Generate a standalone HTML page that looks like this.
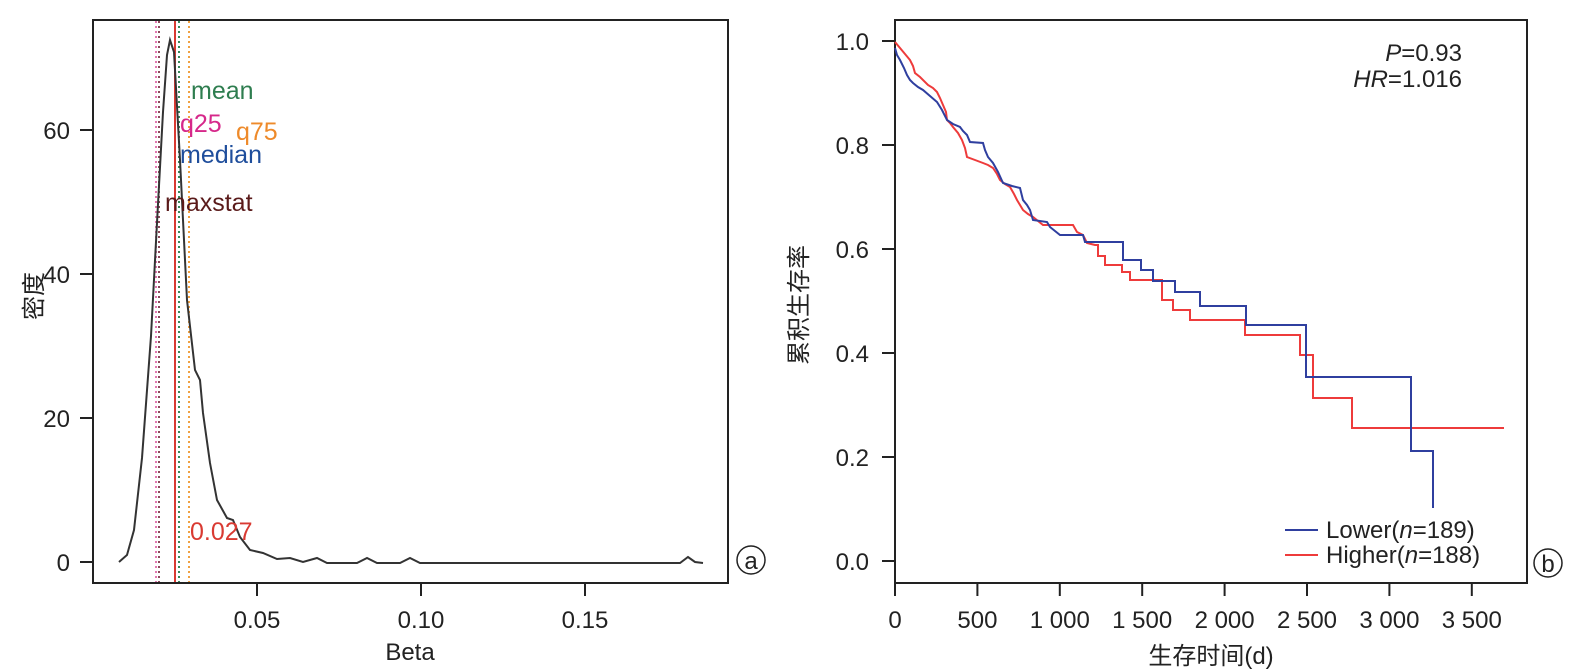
<!DOCTYPE html>
<html><head><meta charset="utf-8"><style>
html,body{margin:0;padding:0;background:#fff;}
svg{display:block;}
text{font-family:"Liberation Sans","Noto Sans CJK SC",sans-serif;}
</style></head><body>
<svg width="1594" height="670" viewBox="0 0 1594 670" xmlns="http://www.w3.org/2000/svg" fill="#222">
<!-- LEFT PANEL -->
<rect x="93" y="20" width="635" height="563" fill="none" stroke="#222" stroke-width="2"/>
<g stroke="#222" stroke-width="2">
<line x1="80" y1="562" x2="93" y2="562"/><line x1="80" y1="418" x2="93" y2="418"/>
<line x1="80" y1="274" x2="93" y2="274"/><line x1="80" y1="130" x2="93" y2="130"/>
<line x1="257" y1="583" x2="257" y2="596"/><line x1="421" y1="583" x2="421" y2="596"/><line x1="585" y1="583" x2="585" y2="596"/>
</g>
<g font-size="24" text-anchor="end">
<text x="70" y="571">0</text><text x="70" y="427">20</text><text x="70" y="283">40</text><text x="70" y="139">60</text>
</g>
<g font-size="24" text-anchor="middle">
<text x="257" y="628">0.05</text><text x="421" y="628">0.10</text><text x="585" y="628">0.15</text>
<text x="410" y="660">Beta</text>
</g>
<text font-size="24" text-anchor="middle" transform="translate(42,296) rotate(-90)">密度</text>
<!-- vertical lines -->
<line x1="156" y1="21" x2="156" y2="582" stroke="#e377b0" stroke-width="2" stroke-dasharray="2,3"/>
<line x1="159" y1="21" x2="159" y2="582" stroke="#8a4a5a" stroke-width="2" stroke-dasharray="2,3"/>
<line x1="175" y1="21" x2="175" y2="582" stroke="#d93a32" stroke-width="2"/>
<line x1="179" y1="21" x2="179" y2="582" stroke="#3a8a5a" stroke-width="2" stroke-dasharray="2,3"/>
<line x1="189" y1="21" x2="189" y2="582" stroke="#f0a040" stroke-width="2" stroke-dasharray="2,3"/>
<polyline fill="none" stroke="#333" stroke-width="2" points="119,562 127,555 134,530 142,458 151,336 158,204 163,112 167,55 170,40 174,52 180,160 187,300 195,370 200,380 203,413 210,463 217,500 227,518 233,520 240,537 250,550 263,553 277,559 290,558 303,562 317,558 327,563 357,563 367,558 377,563 400,563 410,558 420,563 680,563 688,557 695,562 703,563"/>
<g font-size="25">
<text x="191" y="99" style="fill:#2e7d4f">mean</text>
<text x="180" y="132" style="fill:#d6288a">q25</text>
<text x="236" y="140" style="fill:#ee8a2a">q75</text>
<text x="180" y="163" style="fill:#1f4e9c">median</text>
<text x="165" y="211" style="fill:#5a1a1a">maxstat</text>
<text x="190" y="540" style="fill:#d93a32">0.027</text>
</g>
<circle cx="751" cy="560" r="14" fill="none" stroke="#222" stroke-width="1.5"/>
<text x="751" y="569" font-size="24" text-anchor="middle">a</text>

<!-- RIGHT PANEL -->
<rect x="895" y="20" width="632" height="563" fill="none" stroke="#222" stroke-width="2"/>
<g stroke="#222" stroke-width="2">
<line x1="882" y1="41" x2="895" y2="41"/><line x1="882" y1="145" x2="895" y2="145"/>
<line x1="882" y1="249" x2="895" y2="249"/><line x1="882" y1="353" x2="895" y2="353"/>
<line x1="882" y1="457" x2="895" y2="457"/><line x1="882" y1="561" x2="895" y2="561"/>
<line x1="895" y1="583" x2="895" y2="596"/><line x1="977.4" y1="583" x2="977.4" y2="596"/>
<line x1="1059.8" y1="583" x2="1059.8" y2="596"/><line x1="1142.2" y1="583" x2="1142.2" y2="596"/>
<line x1="1224.6" y1="583" x2="1224.6" y2="596"/><line x1="1307" y1="583" x2="1307" y2="596"/>
<line x1="1389.4" y1="583" x2="1389.4" y2="596"/><line x1="1471.8" y1="583" x2="1471.8" y2="596"/>
</g>
<g font-size="24" text-anchor="end">
<text x="869" y="50">1.0</text><text x="869" y="154">0.8</text><text x="869" y="258">0.6</text>
<text x="869" y="362">0.4</text><text x="869" y="466">0.2</text><text x="869" y="570">0.0</text>
</g>
<g font-size="24" text-anchor="middle">
<text x="895" y="628">0</text><text x="977.4" y="628">500</text><text x="1059.8" y="628">1 000</text>
<text x="1142.2" y="628">1 500</text><text x="1224.6" y="628">2 000</text><text x="1307" y="628">2 500</text>
<text x="1389.4" y="628">3 000</text><text x="1471.8" y="628">3 500</text>
<text x="1211" y="664">生存时间(d)</text>
</g>
<text font-size="24" text-anchor="middle" transform="translate(807,305) rotate(-90)">累积生存率</text>
<text x="1462" y="61" font-size="24" text-anchor="end"><tspan font-style="italic">P</tspan>=0.93</text>
<text x="1462" y="87" font-size="24" text-anchor="end"><tspan font-style="italic">HR</tspan>=1.016</text>
<polyline fill="none" stroke="#ee3b3b" stroke-width="2" points="895,42 900,48 905,54 910,60 913,66 915,73 920,77 928,85 933,88 937,92 940,98 943,105 946,112 947,120 950,123 953,127 958,133 962,140 965,148 967,157 975,160 983,163 988,165 993,168 997,174 1000,180 1005,184 1010,187 1014,194 1017,200 1020,205 1023,210 1028,214 1033,217 1038,221 1043,225 1073,225 1077,232 1083,235 1087,243 1095,245 1098,245 1098,256 1105,256 1105,265 1122,265 1122,272 1130,272 1130,280 1162,280 1162,300 1173,300 1173,310 1190,310 1190,320 1245,320 1245,335 1300,335 1300,355 1313,355 1313,398 1352,398 1352,428 1504,428"/>
<polyline fill="none" stroke="#2f3f9f" stroke-width="2" points="895,48 897,55 900,60 904,68 907,75 910,80 913,83 918,87 923,90 930,96 937,102 942,110 947,120 953,124 960,127 963,131 967,135 970,142 983,143 985,150 988,157 993,163 998,172 1003,183 1012,186 1020,188 1023,200 1027,205 1030,210 1033,220 1047,222 1050,227 1055,231 1060,235 1083,235 1085,242 1123,242 1123,260 1141,260 1141,270 1153,270 1153,281 1175,281 1175,292 1200,292 1200,306 1246,306 1246,325 1306,325 1306,377 1411,377 1411,451 1433,451 1433,508"/>
<line x1="1285" y1="530" x2="1318" y2="530" stroke="#2f3f9f" stroke-width="2"/>
<line x1="1285" y1="555" x2="1318" y2="555" stroke="#ee3b3b" stroke-width="2"/>
<text x="1326" y="538" font-size="24">Lower(<tspan font-style="italic">n</tspan>=189)</text>
<text x="1326" y="563" font-size="24">Higher(<tspan font-style="italic">n</tspan>=188)</text>
<circle cx="1548" cy="563" r="14" fill="none" stroke="#222" stroke-width="1.5"/>
<text x="1548" y="572" font-size="24" text-anchor="middle">b</text>
</svg>
</body></html>
